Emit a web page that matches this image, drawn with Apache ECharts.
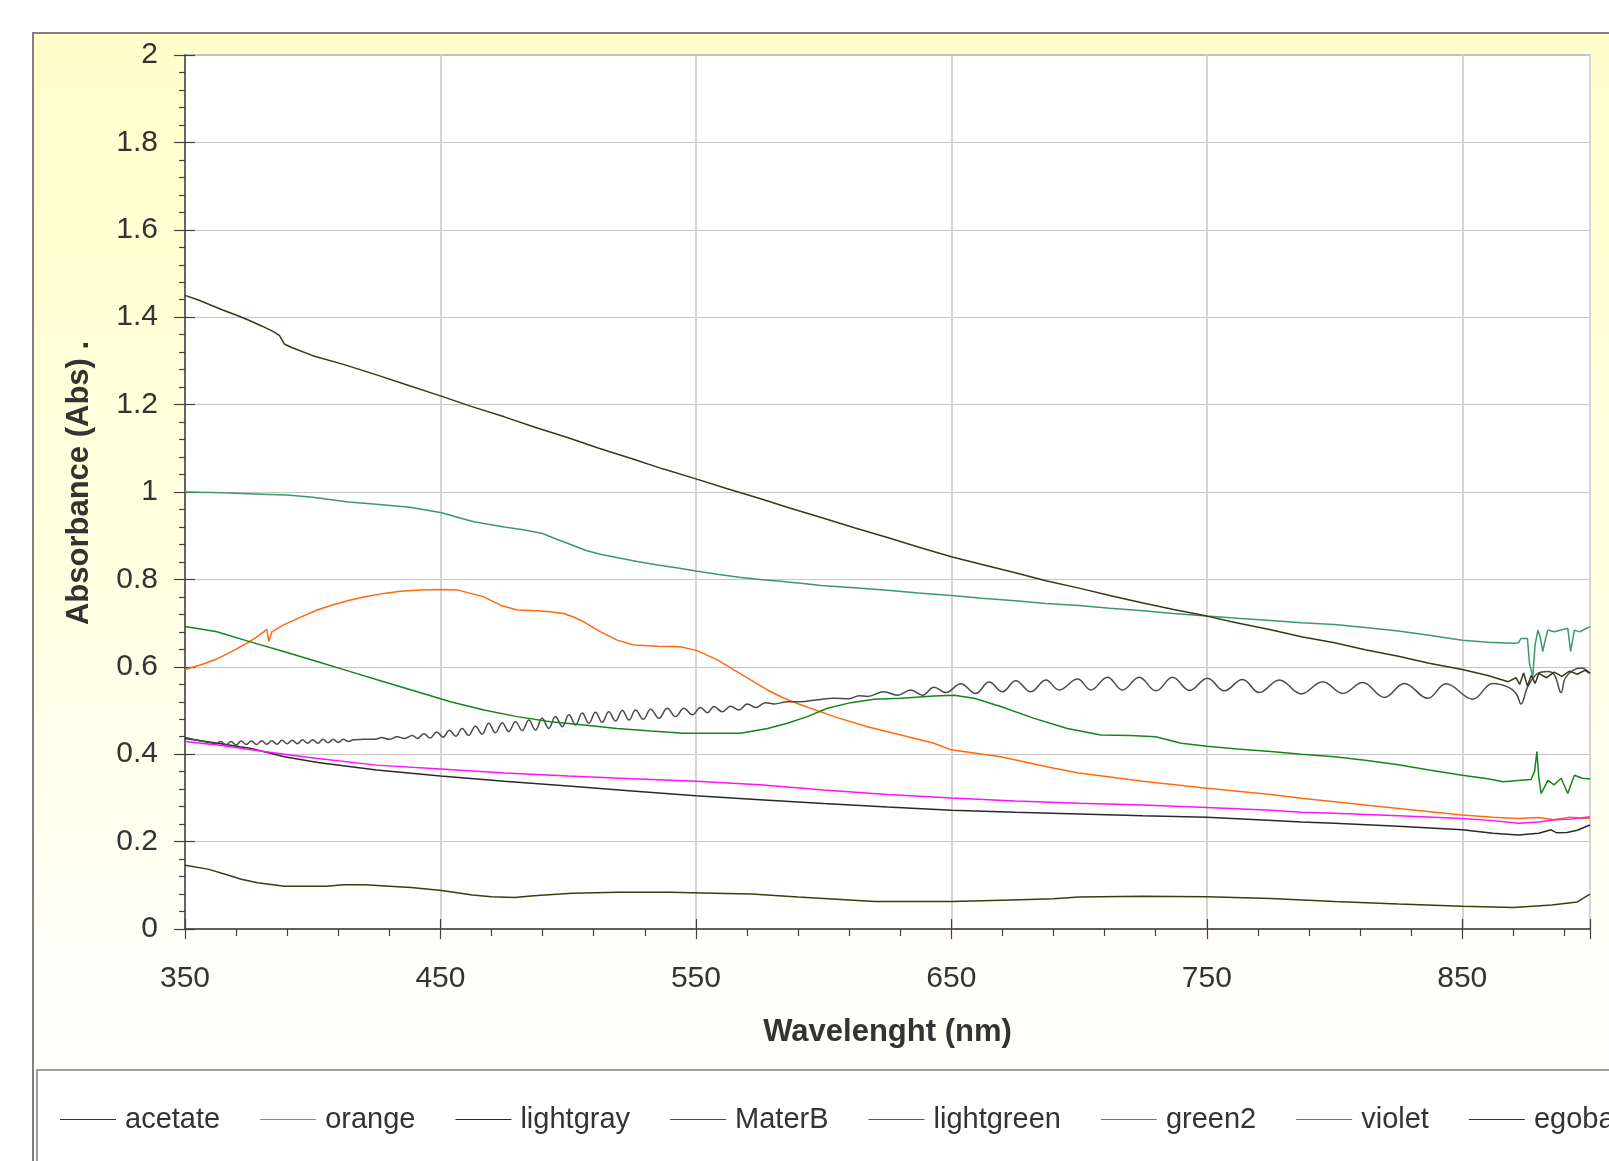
<!DOCTYPE html>
<html>
<head>
<meta charset="utf-8">
<script src="https://cdn.jsdelivr.net/npm/echarts@6/dist/echarts.min.js"></script>
<style>
  html, body { margin: 0; padding: 0; background: #fff; }
  #chart { width: 1609px; height: 1161px; }
</style>
</head>
<body>
<div id="chart"></div>
<script>
// wavelength (nm) / absorbance pairs
var acetate = [[350,0.146],[359,0.137],[366.4,0.124],[372,0.114],[378.4,0.106],[388.9,0.098],[405.4,0.098],[412,0.101],[420.5,0.101],[430,0.098],[438.5,0.095],[450.5,0.088],[462.5,0.078],[470,0.074],[479,0.072],[486.5,0.076],[501.5,0.082],[519.5,0.084],[540,0.084],[557,0.082],[571.8,0.080],[590,0.073],[605,0.068],[620,0.063],[650,0.063],[670,0.066],[690,0.069],[700,0.073],[725,0.075],[750,0.074],[775,0.070],[800,0.063],[825,0.057],[850,0.052],[870,0.049],[885,0.055],[895,0.062],[900,0.080]];

var orange = [[350,0.594],[356,0.604],[362.5,0.618],[368,0.634],[374.3,0.654],[378,0.668],[380.8,0.680],[382,0.686],[382.8,0.658],[384,0.680],[388.6,0.696],[395,0.713],[401.7,0.730],[408,0.742],[414.7,0.753],[421,0.761],[427.8,0.768],[434.3,0.773],[442,0.776],[450,0.777],[456.5,0.776],[461.8,0.768],[467,0.760],[473.5,0.741],[480,0.730],[487.9,0.728],[493,0.726],[498.3,0.722],[502,0.714],[506.1,0.703],[512.7,0.680],[519.2,0.661],[525.7,0.650],[535,0.647],[544,0.646],[550.5,0.637],[558.4,0.616],[564.9,0.593],[571.4,0.570],[578,0.547],[584.5,0.528],[591,0.513],[604.1,0.486],[617.1,0.463],[630.2,0.444],[643.2,0.425],[649.8,0.410],[669.3,0.394],[690.2,0.368],[700,0.357],[725,0.338],[750,0.322],[775,0.308],[787,0.299],[800,0.291],[825,0.276],[850,0.261],[862,0.256],[872,0.253],[880,0.255],[886,0.250],[892,0.256],[900,0.253]];

var lightgray = [[350,0.436],[362.8,0.425],[375.9,0.413],[388.9,0.394],[402,0.381],[425,0.364],[450,0.350],[475,0.338],[500,0.327],[525,0.316],[550,0.305],[575,0.296],[600,0.287],[625,0.279],[650,0.272],[675,0.267],[700,0.263],[725,0.259],[750,0.256],[770,0.250],[787,0.245],[800,0.242],[825,0.235],[850,0.227],[862,0.219],[872,0.215],[880,0.219],[884.7,0.227],[887,0.220],[891,0.221],[895,0.226],[900,0.238]];

var materB = [[350,0.438],[355,0.432],[360,0.426],[362,0.424],[364,0.429],[366,0.421],[368,0.429],[370,0.421],[372,0.430],[374,0.422],[376,0.430],[378,0.422],[380,0.431],[382,0.423],[384,0.431],[386,0.423],[388,0.432],[390,0.424],[392,0.432],[394,0.424],[396,0.433],[398,0.425],[400,0.433],[402,0.425],[404,0.434],[406,0.426],[408,0.434],[410,0.427],[412,0.434],[414,0.429],[416,0.433],[420,0.434],[425,0.435],[427,0.438],[430,0.434],[433,0.440],[436,0.436],[439,0.443],[441,0.436],[443.5,0.447],[446,0.437],[448.5,0.451],[451,0.439],[453.5,0.455],[456,0.441],[458.5,0.459],[461,0.443],[463.7,0.464],[466.3,0.446],[468.9,0.471],[471.5,0.449],[474.2,0.472],[476.7,0.452],[479.4,0.474],[482,0.454],[484.6,0.478],[487.2,0.455],[489.8,0.482],[492.4,0.459],[495,0.486],[497.7,0.463],[500.3,0.490],[502.9,0.467],[505.5,0.494],[508.1,0.471],[510.7,0.496],[513.3,0.473],[515.9,0.497],[518.5,0.476],[521.2,0.500],[523.8,0.478],[526.4,0.501],[529.4,0.480],[532.3,0.503],[535.5,0.482],[538.8,0.505],[542,0.486],[545.3,0.505],[548.6,0.490],[551.8,0.507],[554.5,0.495],[557.1,0.509],[560.3,0.497],[563.6,0.510],[566.8,0.501],[570.1,0.515],[573.4,0.507],[577.3,0.518],[580.6,0.515],[585.8,0.520],[591,0.520],[597,0.524],[604,0.528],[610,0.527],[614,0.534],[617.1,0.532],[623.6,0.543],[628.9,0.535],[634.1,0.547],[638.7,0.535],[643.2,0.553],[647.8,0.541],[653.7,0.561],[659.5,0.539],[664.8,0.565],[670,0.543],[675.2,0.568],[681.1,0.543],[687,0.570],[692.2,0.547],[699.4,0.572],[704.6,0.547],[711.1,0.576],[717,0.547],[723.5,0.576],[730.1,0.545],[736.6,0.576],[743.2,0.546],[750.3,0.574],[756.8,0.545],[764,0.571],[770.5,0.541],[778.4,0.570],[786.9,0.538],[795.4,0.566],[803.2,0.539],[811,0.564],[819.5,0.530],[827.3,0.562],[836.5,0.528],[843.6,0.561],[854.1,0.526],[861.9,0.562],[867.8,0.554],[871.1,0.539],[873,0.515],[875.6,0.554],[879.6,0.585],[883.5,0.589],[886.1,0.581],[888.7,0.541],[890.6,0.577],[896.5,0.597],[900,0.585]];

var lightgreen = [[350,0.692],[362.5,0.680],[375.6,0.657],[388.6,0.635],[401.7,0.612],[414.7,0.589],[427.8,0.566],[440.9,0.543],[453.9,0.520],[467,0.501],[480,0.486],[493.1,0.474],[506.1,0.467],[519.2,0.459],[532.3,0.453],[545.3,0.448],[567.5,0.448],[578,0.459],[585.8,0.471],[593.6,0.486],[601.5,0.505],[610.6,0.518],[619.7,0.526],[630.2,0.528],[643.2,0.533],[651.1,0.535],[658.9,0.528],[669.3,0.509],[682.4,0.482],[695.4,0.459],[708.5,0.444],[720,0.443],[730,0.440],[740,0.425],[750,0.418],[762,0.412],[775,0.406],[787,0.400],[800,0.394],[812,0.386],[825,0.376],[837,0.364],[850,0.352],[860,0.344],[866,0.337],[872,0.340],[876.9,0.342],[878.3,0.360],[879.2,0.406],[880,0.345],[880.9,0.310],[883.5,0.340],[886,0.330],[888.7,0.345],[891.3,0.310],[892.5,0.330],[893.9,0.352],[897,0.345],[900,0.343]];

var green2 = [[350,1.000],[365,0.998],[380,0.995],[390,0.993],[400,0.988],[414,0.977],[425,0.972],[438,0.965],[450,0.953],[463,0.932],[475,0.920],[483,0.913],[490,0.905],[495,0.893],[501,0.880],[507,0.866],[513,0.857],[519,0.850],[527,0.841],[535,0.833],[543,0.826],[550,0.819],[559,0.811],[567,0.805],[575,0.800],[583,0.796],[591,0.791],[599,0.786],[612,0.781],[625,0.775],[637,0.769],[650,0.763],[662,0.757],[675,0.751],[687,0.745],[700,0.740],[712,0.734],[725,0.728],[737,0.722],[750,0.716],[762,0.711],[775,0.706],[787,0.701],[800,0.697],[812,0.690],[825,0.682],[837,0.672],[850,0.661],[860,0.656],[870,0.654],[872,0.655],[873,0.665],[875.5,0.665],[876.3,0.608],[877.6,0.577],[878.5,0.650],[879.6,0.684],[880.5,0.668],[881.5,0.635],[882.5,0.662],[883.5,0.684],[886,0.680],[888.7,0.684],[891.3,0.688],[892.4,0.635],[893.9,0.684],[896,0.680],[897.9,0.686],[900,0.692]];

var violet = [[350,0.429],[362.8,0.421],[375.9,0.410],[388.9,0.400],[402,0.390],[425,0.375],[450,0.366],[475,0.357],[500,0.350],[525,0.344],[550,0.338],[575,0.330],[600,0.318],[625,0.308],[650,0.300],[675,0.293],[700,0.288],[725,0.284],[750,0.278],[775,0.272],[787,0.267],[800,0.265],[825,0.259],[850,0.253],[862,0.248],[872,0.242],[880,0.245],[886,0.250],[893,0.252],[900,0.257]];

var egobag = [[350,1.450],[355,1.440],[360,1.428],[365,1.416],[370,1.405],[375,1.393],[380,1.380],[385,1.366],[387,1.358],[389,1.338],[392,1.330],[400,1.312],[412,1.292],[425,1.268],[437,1.245],[450,1.220],[462,1.196],[475,1.172],[487,1.148],[500,1.124],[512,1.100],[525,1.076],[537,1.053],[550,1.030],[562,1.008],[575,0.985],[587,0.963],[600,0.940],[612,0.918],[625,0.896],[637,0.874],[650,0.852],[662,0.834],[675,0.815],[687,0.797],[700,0.780],[712,0.763],[725,0.746],[737,0.731],[750,0.716],[762,0.700],[775,0.685],[787,0.669],[800,0.655],[812,0.639],[825,0.624],[837,0.608],[850,0.594],[860,0.580],[868,0.566],[871,0.575],[872.5,0.560],[874,0.586],[875.5,0.556],[877,0.580],[878.5,0.562],[880,0.585],[883,0.575],[886,0.588],[889,0.578],[892,0.590],[895,0.583],[898,0.592],[900,0.585]];

var seriesNames = ['acetate', 'orange', 'lightgray', 'MaterB', 'lightgreen', 'green2', 'violet', 'egobag'];
var seriesData = [acetate, orange, lightgray, materB, lightgreen, green2, violet, egobag];
var seriesColors = ['#3c3c0c', '#ff6a10', '#2a2a2a', '#4a4a4a', '#13861a', '#3a9a6a', '#ff10ff', '#38381a'];

var font = "'Liberation Sans', Arial, sans-serif";
var axisColor = '#404040';

var chart = echarts.init(document.getElementById('chart'));

chart.setOption({
  animation: false,
  textStyle: { fontFamily: font },
  graphic: [
    {
      type: 'rect',
      z: -20,
      shape: { x: 33, y: 33, width: 1600, height: 1150 },
      style: {
        fill: {
          type: 'linear', x: 0, y: 0, x2: 0, y2: 1,
          colorStops: [
            { offset: 0, color: '#ffffcc' },
            { offset: 0.45, color: '#ffffe0' },
            { offset: 0.8, color: '#fffff8' },
            { offset: 1, color: '#ffffff' }
          ]
        },
        stroke: '#808080',
        lineWidth: 2
      }
    },
    {
      type: 'rect',
      z: -10,
      shape: { x: 37, y: 1070, width: 1600, height: 120 },
      style: { fill: '#ffffff', stroke: '#a0a0a0', lineWidth: 2 }
    }
  ],
  grid: {
    left: 185, right: 19, top: 55, bottom: 232,
    show: true, backgroundColor: '#ffffff', borderColor: '#b0b0b0', borderWidth: 1.5
  },
  legend: {
    left: 55, top: 1100, width: 2500,
    itemWidth: 56, itemHeight: 14, itemGap: 40,
    icon: 'path://M0,7L56,7L56,8L0,8Z',
    data: seriesNames,
    textStyle: { fontSize: 29, color: '#333', fontFamily: font, padding: [0, 0, 0, 4] }
  },
  xAxis: [
    {
      type: 'value', min: 350, max: 900, interval: 100,
      name: 'Wavelenght (nm)', nameLocation: 'middle', nameGap: 88,
      nameTextStyle: { fontSize: 31, fontWeight: 'bold', color: '#333', fontFamily: font },
      axisLine: { lineStyle: { color: axisColor, width: 1.5 } },
      axisTick: { length: 10, lineStyle: { color: axisColor, width: 1.2 } },
      minorTick: { show: true, splitNumber: 5, length: 7, lineStyle: { color: axisColor, width: 1.2 } },
      axisLabel: { fontSize: 30, color: '#333', margin: 35, showMaxLabel: false },
      splitLine: { show: true, lineStyle: { color: '#d4d4d4', width: 2 } }
    },
    {
      type: 'value', min: 350, max: 900, interval: 100, position: 'bottom',
      axisLine: { show: false },
      axisTick: { inside: true, length: 10, lineStyle: { color: axisColor, width: 1.2 } },
      axisLabel: { show: false },
      splitLine: { show: false }
    }
  ],
  yAxis: [
    {
      type: 'value', min: 0, max: 2, interval: 0.2,
      name: 'Absorbance (Abs) .', nameLocation: 'middle', nameGap: 90, nameRotate: 90,
      nameTextStyle: { fontSize: 31, fontWeight: 'bold', color: '#333', fontFamily: font, padding: [0, 0, 0, 18] },
      axisLine: { show: true, lineStyle: { color: axisColor, width: 1.5 } },
      axisTick: { show: true, length: 11, lineStyle: { color: axisColor, width: 1.2 } },
      minorTick: { show: true, splitNumber: 5, length: 6, lineStyle: { color: axisColor, width: 1.2 } },
      axisLabel: { fontSize: 30, color: '#333', margin: 27 },
      splitLine: { show: true, lineStyle: { color: '#c4c4c4', width: 1.2 } }
    },
    {
      type: 'value', min: 0, max: 2, interval: 0.2, position: 'left',
      axisLine: { show: false },
      axisTick: { show: true, inside: true, length: 10, lineStyle: { color: axisColor, width: 1.2 } },
      axisLabel: { show: false },
      splitLine: { show: false }
    }
  ],
  series: seriesNames.map(function (name, i) {
    return {
      name: name,
      type: 'line',
      data: seriesData[i],
      symbol: 'none',
      smooth: name === 'MaterB' ? 0.4 : false,
      itemStyle: { color: seriesColors[i] },
      lineStyle: { color: seriesColors[i], width: 1.5 }
    };
  })
});
</script>
</body>
</html>
